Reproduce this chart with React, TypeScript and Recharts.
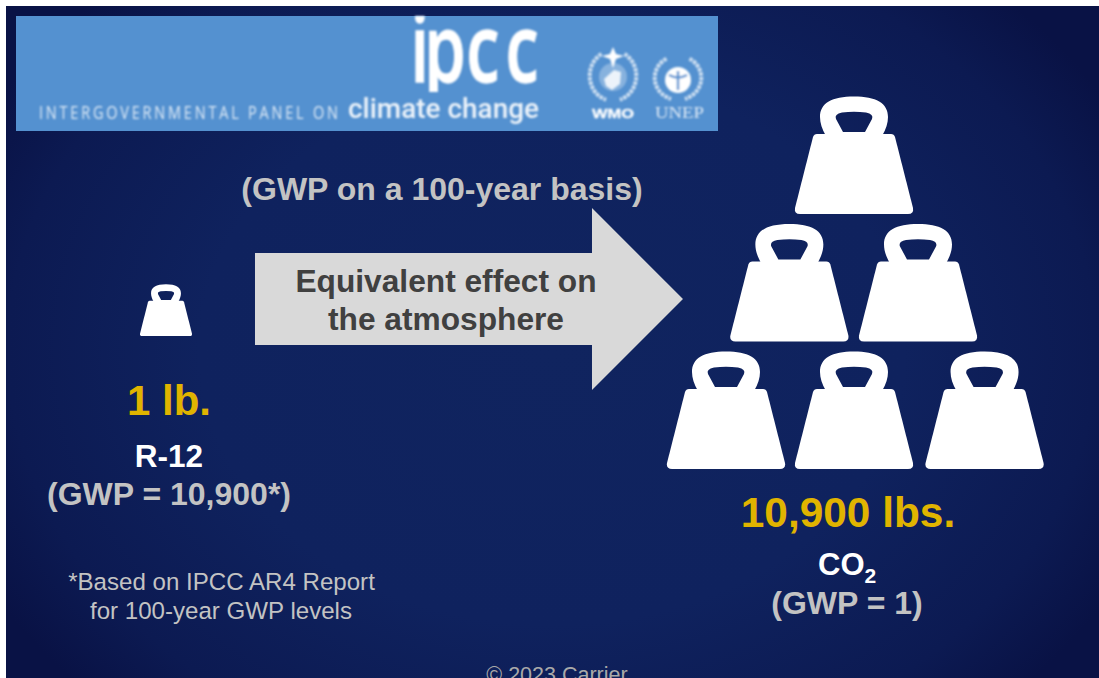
import React from "react";
import { ScatterChart, Scatter, XAxis, YAxis } from "recharts";

// Weight slots in pyramid units: one column = one weight pitch, row 0 = top tier.
const pyramidColumns = [0, -0.505, 0.5, -1, 0, 1.02];
const pyramidRows = [0, 1, 1, 2, 2, 2];
const singleColumns = [-5.375];
const singleRows = [0.957];
const arrowColumns = [-1.336];
const arrowRows = [0.667];
const arrowCaption = ["Equivalent effect on", "the atmosphere"];

const pyramidWeights = pyramidColumns.map((col, i) => ({ col, row: pyramidRows[i] }));
const singleWeight = singleColumns.map((col, i) => ({ col, row: singleRows[i] }));
const arrowTip = arrowColumns.map((col, i) => ({ col, row: arrowRows[i] }));

const WIDTH = 1099;
const HEIGHT = 678;
const COL_DOMAIN: [number, number] = [-854 / 128, (WIDTH - 854) / 128];
const ROW_DOMAIN: [number, number] = [-214 / 127.5, (HEIGHT - 214) / 127.5];

const SANS = "'Liberation Sans', Arial, sans-serif";
const GOLD = "#e0b400";
const GREY = "#c3c3c3";

const Weight = ({ cx, cy, scale }: any) => (
  <g transform={`translate(${cx} ${cy}) scale(${scale})`} fill="#ffffff">
    <path d="M -37 -80 L 37 -80 Q 40 -80 41 -77 L 59 -6 Q 60 0 54 0 L -54 0 Q -60 0 -59 -6 L -41 -77 Q -40 -80 -37 -80 Z" />
    <path
      fillRule="evenodd"
      d="M -28 -78 C -32 -85 -34 -91 -34 -97 C -34 -111 -22 -117.5 0 -117.5 C 22 -117.5 34 -111 34 -97 C 34 -91 32 -85 28 -78 Z M -11 -82 L -18 -95 Q -20 -100 -12 -101.5 Q 0 -103 12 -101.5 Q 20 -100 18 -95 L 11 -82 Z"
    />
  </g>
);

const LargeWeight = (props: any) => <Weight {...props} scale={1} />;
const SmallWeight = (props: any) => <Weight {...props} scale={0.44} />;

// Block arrow, anchored at its tip, carrying its own two-line caption.
const Arrow = ({ cx, cy }: any) => (
  <g transform={`translate(${cx} ${cy})`}>
    <polygon points="0,0 -91,-91 -91,-46 -428,-46 -428,46 -91,46 -91,91" fill="#d9d9d9" />
    {arrowCaption.map((line, i) => (
      <text
        key={line}
        x={-237}
        y={-7 + i * 38}
        textAnchor="middle"
        fontFamily={SANS}
        fontSize={31.7}
        fontWeight={700}
        fill="#404040"
      >
        {line}
      </text>
    ))}
  </g>
);

const Label = ({ x, y, size, color, weight = 700, children }: any) => (
  <text x={x} y={y} textAnchor="middle" fontFamily={SANS} fontSize={size} fontWeight={weight} fill={color}>
    {children}
  </text>
);

// Laurel wreath: two dashed arcs either side of the emblem.
const Wreath = ({ x, y, rx, ry }: any) => (
  <g fill="none" stroke="#ffffff" strokeWidth={4} strokeDasharray="3.5 1" opacity={0.72}>
    <path d={`M ${x - rx * 0.5} ${y - ry * 0.88} A ${rx} ${ry} 0 0 0 ${x - rx * 0.3} ${y + ry * 0.95}`} />
    <path d={`M ${x + rx * 0.5} ${y - ry * 0.88} A ${rx} ${ry} 0 0 1 ${x + rx * 0.3} ${y + ry * 0.95}`} />
  </g>
);

const Banner = () => (
  <g>
    <rect x={16} y={16} width={702} height={115} fill="#5491d0" />
    <g filter="url(#soft)">
      <g clipPath="url(#logoClip)">
        <text
          y={0}
          transform="translate(0 82) scale(1.15 1.63)"
          fontFamily="'Open Sans', sans-serif"
          fontSize={58}
          fontWeight={600}
          fill="#ffffff"
          stroke="#ffffff"
          strokeWidth={0.8}
        >
          <tspan x="357 369 405.5 439.6">ipcc</tspan>
        </text>
      </g>
      <text
        transform="translate(39 118.5) scale(1 1.2)"
        fontFamily="'Open Sans', sans-serif"
        fontSize={14.5}
        fill="#ffffff"
        opacity={0.82}
        textLength={299}
        lengthAdjust="spacing"
      >
        INTERGOVERNMENTAL PANEL ON
      </text>
      <text
        x={348}
        y={118}
        fontFamily="Roboto, sans-serif"
        fontSize={27}
        fontWeight={500}
        fill="#ffffff"
        opacity={0.9}
        textLength={191}
        lengthAdjust="spacingAndGlyphs"
      >
        climate change
      </text>
      <Wreath x={613} y={76} rx={23} ry={25} />
      <path d="M 613 47 L 616 54 L 624 56 L 616 59 L 613 68 L 610 59 L 602 56 L 610 54 Z" fill="#ffffff" />
      <circle cx={613} cy={77} r={14} fill="#ffffff" opacity={0.3} />
      <path d="M 604 79 L 614 70 L 621 72 L 620 84 L 612 90 L 606 86 Z" fill="#ffffff" opacity={0.85} />
      <Wreath x={678} y={78} rx={23} ry={22} />
      <circle cx={678} cy={80} r={13} fill="#ffffff" />
      <path d="M 669 75 Q 678 80 687 75 M 678 71 L 678 90" stroke="#5491d0" strokeWidth={2.4} fill="none" />
      <text
        x={613}
        y={118}
        textAnchor="middle"
        fontFamily={SANS}
        fontSize={13.5}
        fontWeight={700}
        fill="#ffffff"
        stroke="#ffffff"
        strokeWidth={0.3}
        textLength={42}
        lengthAdjust="spacingAndGlyphs"
      >
        WMO
      </text>
      <text
        x={679.5}
        y={118}
        textAnchor="middle"
        fontFamily="'Liberation Serif', serif"
        fontSize={17.5}
        fill="#ffffff"
        opacity={0.82}
        textLength={49}
        lengthAdjust="spacingAndGlyphs"
      >
        UNEP
      </text>
    </g>
  </g>
);

export default function App() {
  return (
    <div style={{ position: "fixed", left: 0, top: 0, width: WIDTH, height: HEIGHT, overflow: "hidden", background: "#ffffff" }}>
      <ScatterChart width={WIDTH} height={HEIGHT} margin={{ top: 0, right: 0, bottom: 0, left: 0 }}>
        <defs>
          <radialGradient
            id="navy"
            gradientUnits="userSpaceOnUse"
            cx={552}
            cy={350}
            r={640}
            gradientTransform="translate(552 350) scale(1 0.78) translate(-552 -350)"
          >
            <stop offset="0" stopColor="#10245f" />
            <stop offset="0.55" stopColor="#0f225e" />
            <stop offset="0.85" stopColor="#0c1a52" />
            <stop offset="1" stopColor="#091245" />
          </radialGradient>
          <filter id="soft" x="-5%" y="-5%" width="110%" height="110%">
            <feGaussianBlur stdDeviation="0.8" />
          </filter>
          <clipPath id="logoClip">
            <rect x={400} y={16} width={150} height={76} />
          </clipPath>
        </defs>
        <rect x={6} y={6} width={WIDTH - 6} height={HEIGHT} fill="url(#navy)" />
        <Banner />
        <XAxis type="number" dataKey="col" domain={COL_DOMAIN} hide />
        <YAxis type="number" dataKey="row" domain={ROW_DOMAIN} reversed hide />
        <Scatter data={arrowTip} shape={Arrow} isAnimationActive={false} />
        <Scatter data={singleWeight} shape={SmallWeight} isAnimationActive={false} />
        <Scatter data={pyramidWeights} shape={LargeWeight} isAnimationActive={false} />

        <Label x={442} y={200} size={32} color={GREY}>(GWP on a 100-year basis)</Label>
        <Label x={169} y={415} size={42} color={GOLD}>1 lb.</Label>
        <Label x={169} y={467} size={31.5} color="#ffffff">R-12</Label>
        <Label x={169} y={505} size={32} color={GREY}>(GWP = 10,900*)</Label>
        <Label x={221.5} y={590} size={24.1} color={GREY} weight={400}>*Based on IPCC AR4 Report</Label>
        <Label x={221} y={619} size={24.1} color={GREY} weight={400}>for 100-year GWP levels</Label>
        <Label x={848} y={527} size={42.4} color={GOLD}>10,900 lbs.</Label>
        <text x={818} y={575} fontFamily={SANS} fontSize={31} fontWeight={700} fill="#ffffff">
          CO
          <tspan fontSize={21} dy={7.5}>2</tspan>
        </text>
        <Label x={847} y={614} size={32} color={GREY}>(GWP = 1)</Label>
        <Label x={557} y={682} size={21.5} color="#a9a9a9" weight={400}>© 2023 Carrier</Label>
      </ScatterChart>
    </div>
  );
}
